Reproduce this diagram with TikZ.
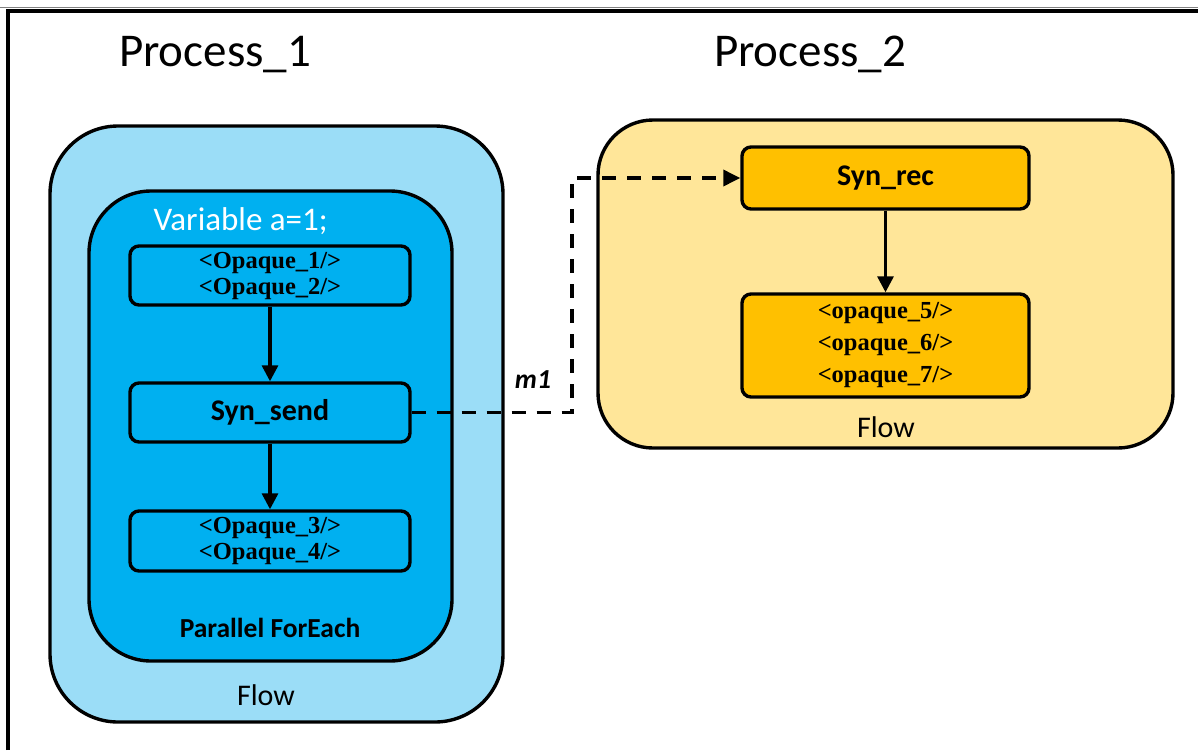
\documentclass[tikz,border=0pt]{standalone}
\usepackage{fontspec}
\setmainfont{Carlito}
\newfontfamily\serifbold{Liberation Serif}
\usetikzlibrary{arrows.meta}
\definecolor{lightblue}{RGB}{155,221,247}
\definecolor{midblue}{RGB}{0,176,240}
\definecolor{lightgold}{RGB}{255,230,153}
\definecolor{gold}{RGB}{255,192,0}
\tikzset{
  bigbox/.style={draw=black, line width=3.4pt, rounded corners=60pt},
  smallbox/.style={draw=black, line width=3.4pt, rounded corners=9pt, minimum width=280pt, align=center, inner sep=0pt},
  optext/.style={font=\serifbold\bfseries\fontsize{24.5}{26}\selectfont},
  optextb/.style={font=\serifbold\bfseries\fontsize{24.5}{32}\selectfont},
  syntext/.style={font=\bfseries\fontsize{30}{32}\selectfont},
  flowarrow/.style={line width=3.2pt, -{Triangle[length=16pt,width=16pt]}},
  msgarrow/.style={line width=3.4pt, dash pattern=on 14pt off 11pt, -{Triangle[length=17pt,width=16pt]}},
}
\begin{document}
\begin{tikzpicture}[x=1pt,y=-1pt]
\useasboundingbox (0,0) rectangle (1198,750);
\fill[white] (0,0) rectangle (1198,750);
% frame
\draw[gray, line width=1pt] (0,7) -- (1198,7);
\draw[black, line width=4pt] (8,750) -- (8,11) -- (1198,11);
% titles
\node[anchor=base, font=\fontsize{47}{50}\selectfont] (p1) at (215,66) {Process\_1};
\node[anchor=base, font=\fontsize{47}{50}\selectfont] (p2) at (810,66) {Process\_2};
% left containers
\node[bigbox, fill=lightblue, minimum width=453pt, minimum height=596pt, rounded corners=68pt] (flow1) at (276.5,424) {};
\node[bigbox, fill=midblue, minimum width=363pt, minimum height=470pt, rounded corners=62pt] (pfe) at (270.5,426) {};
\node[anchor=base west, text=white, font=\fontsize{33}{36}\selectfont] (var) at (150,230) {Variable a=1;};
\node[anchor=base, font=\bfseries\fontsize{27.5}{30}\selectfont] (pfelabel) at (270,637) {Parallel ForEach};
\node[anchor=base, font=\fontsize{30}{34}\selectfont] (flow1label) at (266,705) {Flow};
% left inner boxes
\node[smallbox, fill=midblue, minimum height=59pt, optext] (op12) at (270,275.5) {<Opaque\_1/>\\<Opaque\_2/>};
\node[smallbox, fill=midblue, minimum height=59pt, syntext] (send) at (270,412.5) {Syn\_send};
\node[smallbox, fill=midblue, minimum height=60pt, optext] (op34) at (270,541) {<Opaque\_3/>\\<Opaque\_4/>};
% right container
\node[bigbox, fill=lightgold, minimum width=575pt, minimum height=328pt, rounded corners=55pt] (flow2) at (885.5,284) {};
\node[anchor=base, font=\fontsize{30}{34}\selectfont] (flow2label) at (886,437) {Flow};
\node[smallbox, fill=gold, minimum width=287pt, minimum height=62pt, syntext] (rec) at (885.5,178) {Syn\_rec};
\node[smallbox, fill=gold, minimum width=287pt, minimum height=103pt, optextb] (op567) at (885.5,345.5) {<opaque\_5/>\\<opaque\_6/>\\<opaque\_7/>};
% arrows
\draw[flowarrow] (op12) -- (send);
\draw[flowarrow] (send) -- (op34);
\draw[flowarrow] (rec) -- (op567);
\draw[msgarrow] (send.east) -- (572,412.5) |- (rec.west);
\node[anchor=base, font=\bfseries\itshape\fontsize{27.5}{30}\selectfont] (m1) at (533,388) {m1};
\end{tikzpicture}
\end{document}
